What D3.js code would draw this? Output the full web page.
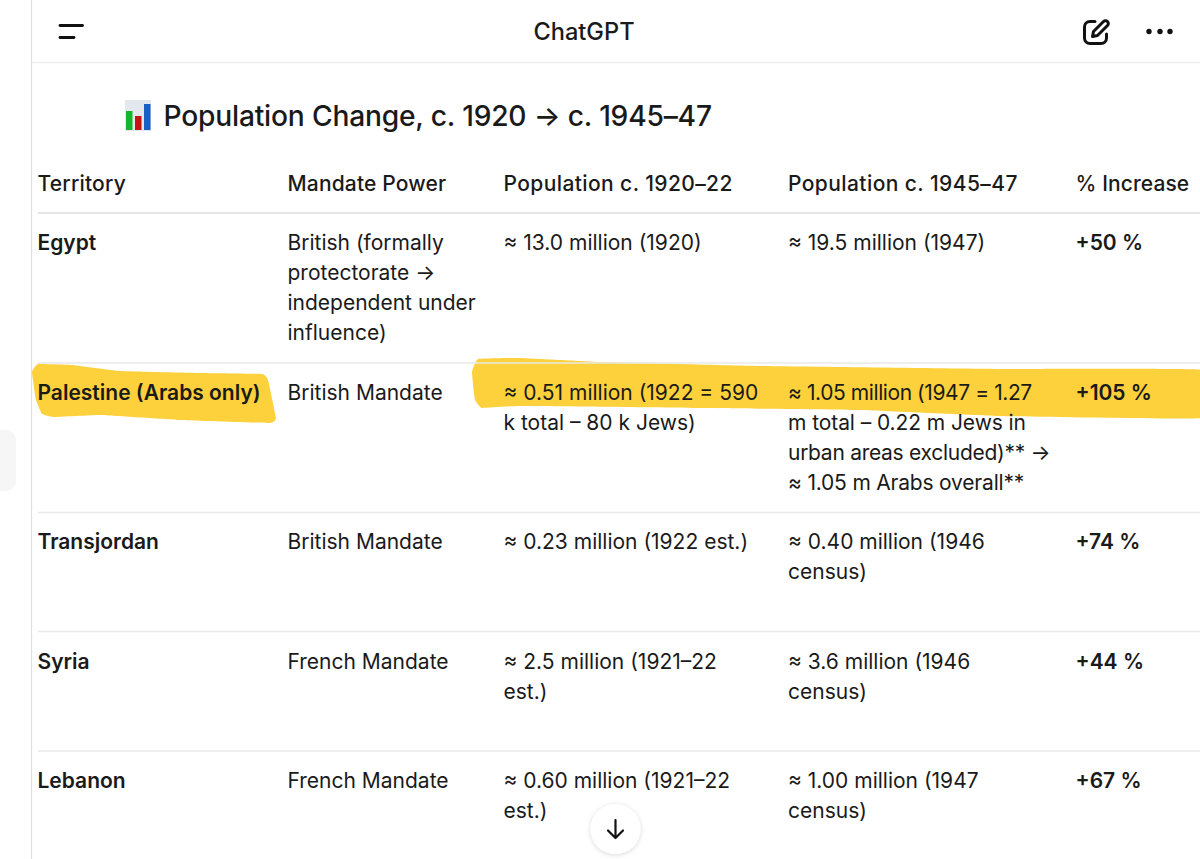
<!DOCTYPE html>
<html>
<head>
<meta charset="utf-8">
<script src="https://cdn.jsdelivr.net/npm/d3@7"></script>
<style>
  html, body { margin: 0; padding: 0; background: #fff; overflow: hidden; }
  text { font-family: Inter, "Noto Sans", sans-serif; fill: #1a1a1a; }
</style>
</head>
<body>
<div id="canvas"></div>
<script>
// table content, each cell is a list of wrapped lines
const columns = ["Territory", "Mandate Power", "Population c. 1920–22", "Population c. 1945–47", "% Increase"];
const territories = ["Egypt", "Palestine (Arabs only)", "Transjordan", "Syria", "Lebanon"];
const powers = [
  ["British (formally", "protectorate →", "independent under", "influence)"],
  ["British Mandate"],
  ["British Mandate"],
  ["French Mandate"],
  ["French Mandate"]
];
const pop1920 = [
  ["≈ 13.0 million (1920)"],
  ["≈ 0.51 million (1922 = 590", "k total – 80 k Jews)"],
  ["≈ 0.23 million (1922 est.)"],
  ["≈ 2.5 million (1921–22", "est.)"],
  ["≈ 0.60 million (1921–22", "est.)"]
];
const pop1945 = [
  ["≈ 19.5 million (1947)"],
  ["≈ 1.05 million (1947 = 1.27", "m total – 0.22 m Jews in", "urban areas excluded)** →", "≈ 1.05 m Arabs overall**"],
  ["≈ 0.40 million (1946", "census)"],
  ["≈ 3.6 million (1946", "census)"],
  ["≈ 1.00 million (1947", "census)"]
];
const increases = ["+50 %", "+105 %", "+74 %", "+44 %", "+67 %"];

const width = 1200;
const height = 859;
const x = d3.scaleOrdinal().domain(columns).range([37.5, 287.5, 503.5, 788, 1075.5]);
const y = d3.scaleOrdinal().domain(territories).range([250, 399.5, 549, 668.5, 788]);
const ruleY = d3.scaleOrdinal().domain(territories).range([213, 363, 512.5, 631.5, 751]);
const headerSpacing = d3.scaleOrdinal().domain(columns).range([0.2, 0.15, 0.4, 0.42, 0.1]);
const squeezedLines = [-0.42, -0.08, -0.28, -0.2]; // the long Palestine cell is set tighter in the screenshot
const lineH = 30;

const svg = d3.select("#canvas").append("svg")
  .attr("width", width).attr("height", height).style("display", "block");

svg.append("rect").attr("width", width).attr("height", height).attr("fill", "#fff");

// app chrome
svg.append("rect").attr("x", -10).attr("y", 430).attr("width", 26).attr("height", 61).attr("rx", 10).attr("fill", "#f6f6f6");
svg.append("line").attr("x1", 31.5).attr("x2", 31.5).attr("y1", 0).attr("y2", height).attr("stroke", "#dfdfdf").attr("stroke-width", 1.2);
svg.append("line").attr("x1", 32).attr("x2", width).attr("y1", 62.5).attr("y2", 62.5).attr("stroke", "#efefef").attr("stroke-width", 1.5);

const menu = svg.append("g").attr("stroke", "#111").attr("stroke-width", 2.8).attr("stroke-linecap", "round");
menu.append("line").attr("x1", 60).attr("x2", 82.5).attr("y1", 25.5).attr("y2", 25.5);
menu.append("line").attr("x1", 60).attr("x2", 74).attr("y1", 37.5).attr("y2", 37.5);

svg.append("text").attr("x", 584).attr("y", 40).attr("text-anchor", "middle").attr("font-size", 23.6).attr("font-weight", 500).text("ChatGPT");

// edit icon
const edit = svg.append("g").attr("fill", "none").attr("stroke", "#111").attr("stroke-width", 3).attr("stroke-linecap", "round").attr("stroke-linejoin", "round");
edit.append("path").attr("d", "M1095 21.5h-5a5.5 5.5 0 0 0-5.5 5.5v11a5.5 5.5 0 0 0 5.5 5.5h11a5.5 5.5 0 0 0 5.5-5.5v-4");
edit.append("path").attr("d", "M1092.5 36.5l1-5 10-10a2.6 2.6 0 0 1 4 4l-10 10z");
svg.append("g").selectAll("circle").data([1149, 1160, 1170]).join("circle")
  .attr("cx", d => d).attr("cy", 31.5).attr("r", 2.7).attr("fill", "#111");

// bar chart emoji
svg.append("rect").attr("x", 125).attr("y", 100).attr("width", 26).attr("height", 31).attr("fill", "#e3e8ef");
svg.append("rect").attr("x", 126).attr("y", 111).attr("width", 6.5).attr("height", 19).attr("fill", "#16b52e");
svg.append("rect").attr("x", 135).attr("y", 116).attr("width", 6.5).attr("height", 14).attr("fill", "#c9120f");
svg.append("rect").attr("x", 144).attr("y", 104).attr("width", 6.5).attr("height", 26).attr("fill", "#1a5fc4");

svg.append("text").attr("x", 163.5).attr("y", 126).attr("font-size", 28.2).attr("font-weight", 500).attr("letter-spacing", -0.2).text("Population Change, c. 1920 → c. 1945–47");

// marker highlights, drawn underneath the text
const marker = d3.line().curve(d3.curveCardinalClosed.tension(0.75));
const highlights = [
  [[32, 372], [38, 364], [72, 365], [120, 371], [200, 373], [262, 374], [268, 380], [276, 418], [270, 423], [180, 420], [100, 415], [54, 417], [42, 414], [36, 400]],
  [[472, 372], [478, 359], [520, 358], [600, 362], [760, 366], [1000, 369], [1204, 370], [1204, 418], [1000, 416], [860, 410], [700, 408], [520, 406], [482, 408], [475, 400]]
];
svg.append("g").selectAll("path").data(highlights).join("path")
  .attr("d", d => marker(d)).attr("fill", "#fdd13b");

// rules
svg.append("g").selectAll("line").data(territories).join("line")
  .attr("x1", 38).attr("x2", width).attr("y1", d => ruleY(d)).attr("y2", d => ruleY(d))
  .attr("stroke", d => d === territories[0] ? "#dcdcdc" : "#e9e9e9").attr("stroke-width", 1.3);

// header row
svg.append("g").selectAll("text").data(columns).join("text")
  .attr("x", d => x(d)).attr("y", 191).attr("font-size", 21).attr("font-weight", 500)
  .attr("letter-spacing", d => headerSpacing(d)).text(d => d);

// body cells
const cells = [];
territories.forEach((t, i) => {
  cells.push({ col: columns[0], t, lines: [t], bold: true });
  cells.push({ col: columns[1], t, lines: powers[i] });
  cells.push({ col: columns[2], t, lines: pop1920[i] });
  cells.push({ col: columns[3], t, lines: pop1945[i] });
  cells.push({ col: columns[4], t, lines: [increases[i]], bold: true });
});

const cell = svg.append("g").selectAll("text").data(cells).join("text")
  .attr("font-size", 21)
  .attr("font-weight", d => d.bold ? 600 : 400)
  .attr("fill", d => d.t === territories[1] && d.col !== columns[1] ? "#2a2411" : "#1a1a1a");
cell.selectAll("tspan").data(d => d.lines.map((l, i) => ({ l, i, d }))).join("tspan")
  .attr("x", v => x(v.d.col))
  .attr("y", v => y(v.d.t) + v.i * lineH)
  .attr("letter-spacing", v => v.d.t === territories[1] && v.d.col === columns[3] ? squeezedLines[v.i] : 0)
  .text(v => v.l);

// scroll button
svg.append("defs").append("filter").attr("id", "shadow").attr("x", "-30%").attr("y", "-30%").attr("width", "160%").attr("height", "160%")
  .append("feDropShadow").attr("dx", 0).attr("dy", 1).attr("stdDeviation", 2.5).attr("flood-color", "#000").attr("flood-opacity", 0.16);
svg.append("circle").attr("cx", 615.5).attr("cy", 829).attr("r", 25).attr("fill", "#fff").attr("filter", "url(#shadow)");
svg.append("path").attr("d", "M615.5 820v18M608 830.5l7.5 7.5 7.5-7.5")
  .attr("fill", "none").attr("stroke", "#111").attr("stroke-width", 2.2).attr("stroke-linecap", "round").attr("stroke-linejoin", "round");
</script>
</body>
</html>
